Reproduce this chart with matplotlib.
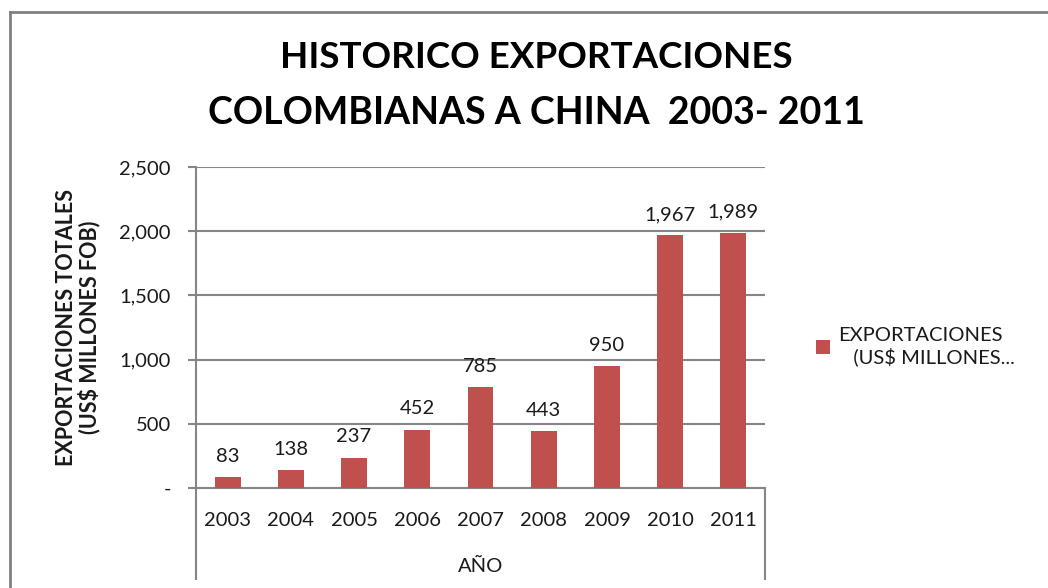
import matplotlib.pyplot as plt
from matplotlib.lines import Line2D

# data
years = ['2003', '2004', '2005', '2006', '2007', '2008', '2009', '2010', '2011']
exports = [83, 138, 237, 452, 785, 443, 950, 1967, 1989]
y_ticks = [0, 500, 1000, 1500, 2000, 2500]
y_tick_labels = ['-', '500', '1,000', '1,500', '2,000', '2,500']

bar_color = '#C0504D'
grid_color = '#868686'
text_color = '#1a1a1a'

plt.rcParams['font.family'] = ['Lato', 'DejaVu Sans']

fig = plt.figure(figsize=(10.48, 5.88), dpi=100)
ax = fig.add_axes([196 / 1048, 1 - 488 / 588, (765 - 196) / 1048, (488 - 167) / 588])

x = range(len(years))
bars = ax.bar(x, exports, width=0.41, color=bar_color, zorder=3,
              label='EXPORTACIONES\n   (US$ MILLONES...')

for i, v in enumerate(exports):
    ax.annotate(f'{v:,}', (i, v), xytext=(0, 9), textcoords='offset points',
                ha='center', va='bottom', fontsize=14.5, color=text_color)

ax.set_xlim(-0.5, len(years) - 0.5)
ax.set_ylim(0, 2500)
ax.set_yticks(y_ticks)
ax.set_yticklabels(y_tick_labels)
ax.set_xticks(list(x))
ax.set_xticklabels(years)
ax.tick_params(axis='y', length=6, width=1.5, color=grid_color, pad=12,
               labelsize=14.5, labelcolor=text_color)
ax.tick_params(axis='x', length=0, pad=17, labelsize=14.5, labelcolor=text_color)
ax.yaxis.grid(True, color=grid_color, linewidth=1.5, zorder=0)
for s in ['top', 'right']:
    ax.spines[s].set_visible(False)
for s in ['left', 'bottom']:
    ax.spines[s].set_color(grid_color)
    ax.spines[s].set_linewidth(1.5)

# category axis dividers below the plot
for xv in [0, 1]:
    ax.add_line(Line2D([xv, xv], [0, -0.285], transform=ax.transAxes,
                       color=grid_color, linewidth=1.5, clip_on=False))

ax.set_xlabel('AÑO', fontsize=14.5, color=text_color, labelpad=21)
ax.set_ylabel('EXPORTACIONES TOTALES\n(US$ MILLONES FOB)', fontsize=15.5,
              fontweight='bold', color=text_color, labelpad=14, linespacing=1.0)

ax.legend(loc='center left', bbox_to_anchor=(1.058, 0.44), frameon=False,
          fontsize=14.5, handlelength=0.7, handleheight=0.7, handletextpad=0.4,
          labelcolor=text_color)

fig.text(0.512, 1 - 58 / 588, 'HISTORICO EXPORTACIONES', ha='center', va='center',
         fontsize=26.5, fontweight='bold', color='black')
fig.text(0.512, 1 - 113 / 588, 'COLOMBIANAS A CHINA  2003- 2011', ha='center', va='center',
         fontsize=27, fontweight='bold', color='black')

# outer chart border (top and left edges visible)
fig.add_artist(Line2D([10 / 1048, 1], [1 - 12 / 588, 1 - 12 / 588], transform=fig.transFigure,
                      color='#808080', linewidth=2))
fig.add_artist(Line2D([10 / 1048, 10 / 1048], [0, 1 - 12 / 588], transform=fig.transFigure,
                      color='#808080', linewidth=2))

fig.savefig('out.png', dpi=100)
